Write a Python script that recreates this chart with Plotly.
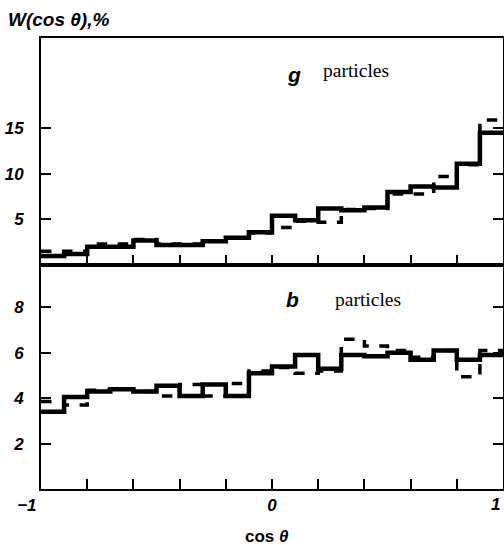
import plotly.graph_objects as go

# bin edges of cos(theta)
bin_edges = [-1.0, -0.9, -0.8, -0.7, -0.6, -0.5, -0.4, -0.3, -0.2, -0.1,
             0.0, 0.1, 0.2, 0.3, 0.4, 0.5, 0.6, 0.7, 0.8, 0.9, 1.0]

# panel "g" (top), W in %
g_solid = [1.0, 1.2, 2.0, 2.0, 2.7, 2.2, 2.2, 2.6, 3.0, 3.6,
           5.4, 4.9, 6.2, 6.0, 6.3, 8.0, 8.6, 8.5, 11.1, 14.5]
g_dashed = [1.5, 1.5, 2.3, 2.3, 2.8, 2.3, 2.3, 2.6, 3.0, 3.5,
            4.1, 4.8, 4.7, 6.1, 6.2, 7.8, 7.8, 9.7, 11.0, 15.9]

# panel "b" (bottom), W in %
b_solid = [3.4, 4.05, 4.3, 4.4, 4.3, 4.55, 4.1, 4.6, 4.1, 5.1,
           5.4, 5.9, 5.3, 5.9, 5.85, 6.0, 5.7, 6.1, 5.7, 5.9]
b_dashed = [3.85, 3.7, 4.35, 4.4, 4.3, 4.1, 4.6, 4.1, 4.65, 5.2,
            5.35, 5.1, 5.2, 6.6, 6.3, 6.1, 5.8, 6.1, 4.95, 6.1]

NB = "\u00a0"
x_ticks = [-1.0, -0.8, -0.6, -0.4, -0.2, 0.0, 0.2, 0.4, 0.6, 0.8, 1.0]
x_ticktext = ["\u22121" + NB * 6, "", "", "", "", "0", "", "", "", "", ""]
last_xlabel = "1"
g_yticks = [5, 10, 15]
b_yticks = [2, 4, 6, 8]


def steps(vals):
    return vals + [vals[-1]]


fig = go.Figure()
fig.add_trace(go.Scatter(x=bin_edges, y=steps(g_dashed), mode="lines", line_shape="hv",
                         line=dict(color="black", width=3.5, dash="dash"),
                         xaxis="x2", yaxis="y2", showlegend=False))
fig.add_trace(go.Scatter(x=bin_edges, y=steps(g_solid), mode="lines", line_shape="hv",
                         line=dict(color="black", width=4.5),
                         xaxis="x2", yaxis="y2", showlegend=False))
fig.add_trace(go.Scatter(x=bin_edges, y=steps(b_dashed), mode="lines", line_shape="hv",
                         line=dict(color="black", width=3.5, dash="dash"),
                         xaxis="x", yaxis="y", showlegend=False))
fig.add_trace(go.Scatter(x=bin_edges, y=steps(b_solid), mode="lines", line_shape="hv",
                         line=dict(color="black", width=4.5),
                         xaxis="x", yaxis="y", showlegend=False))

tickfont = dict(family="Liberation Sans", size=17, color="black", style="italic", weight="bold")
split = 224 / 451

common_x = dict(range=[-1, 1], showgrid=False, zeroline=False, showline=True,
                linecolor="black", linewidth=2, mirror=True, ticks="inside",
                ticklen=10, tickwidth=2, tickcolor="black",
                tickvals=x_ticks, ticktext=x_ticktext, tickfont=tickfont,
                ticklabeloverflow="allow", automargin=False)
common_y = dict(showgrid=False, zeroline=False, showline=True, linecolor="black",
                linewidth=2, mirror="ticks", ticks="inside", ticklen=10, tickwidth=2,
                tickcolor="black", tickfont=tickfont, ticklabelstandoff=12,
                automargin=False)

fig.update_layout(
    width=504, height=545,
    margin=dict(l=41, r=1, t=38, b=56),
    paper_bgcolor="white", plot_bgcolor="white",
    xaxis=dict(common_x, anchor="y", domain=[0, 1]),
    yaxis=dict(common_y, range=[0, 9.87], domain=[0, split], tickvals=b_yticks),
    xaxis2=dict(common_x, anchor="y2", domain=[0, 1], showticklabels=False, matches="x"),
    yaxis2=dict(common_y, range=[0, 24.9], domain=[split, 1], tickvals=g_yticks),
    annotations=[
        dict(text=last_xlabel, x=1.0, y=-0.008, xref="paper", yref="paper",
             xanchor="right", yanchor="top", showarrow=False, xshift=-1,
             font=tickfont),
        dict(text="W(cos \u03b8),%", x=-0.075, y=1.040, xref="paper", yref="paper",
             xanchor="left", yanchor="middle", showarrow=False,
             font=dict(family="Liberation Sans", size=19, color="black", style="italic", weight="bold")),
        dict(text="g", x=0.548, y=0.918, xref="paper", yref="paper", showarrow=False,
             xanchor="center", yanchor="middle",
             font=dict(family="Liberation Sans", size=21, color="black", style="italic", weight="bold")),
        dict(text="particles", x=0.606, y=0.928, xref="paper", yref="paper", showarrow=False,
             xanchor="left", yanchor="middle",
             font=dict(family="Liberation Serif", size=19.5, color="black")),
        dict(text="b", x=0.545, y=0.42, xref="paper", yref="paper", showarrow=False,
             xanchor="center", yanchor="middle",
             font=dict(family="Liberation Sans", size=21, color="black", style="italic", weight="bold")),
        dict(text="particles", x=0.632, y=0.42, xref="paper", yref="paper", showarrow=False,
             xanchor="left", yanchor="middle",
             font=dict(family="Liberation Serif", size=19.5, color="black")),
        dict(text="cos <i>\u03b8</i>", x=0.489, y=-0.106, xref="paper", yref="paper", showarrow=False,
             xanchor="center", yanchor="middle",
             font=dict(family="Liberation Sans", size=17, color="black", weight="bold")),
    ],
)

fig.write_html("out.html", config={"displayModeBar": False},
               post_script="document.body.style.margin='0';document.body.style.overflow='hidden';")
